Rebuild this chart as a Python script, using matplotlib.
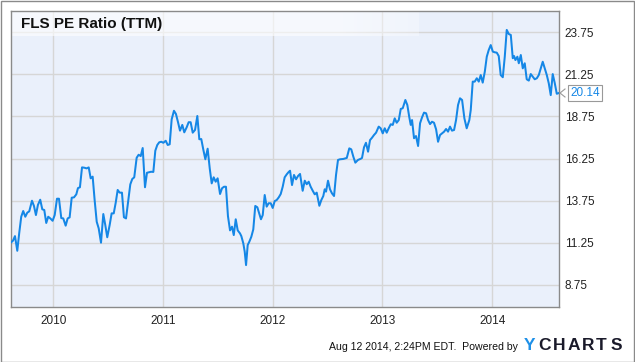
import matplotlib
matplotlib.use("Agg")
import matplotlib.pyplot as plt
import numpy as np
from matplotlib.patches import Rectangle

# ---- data (decimal year, PE ratio) ----
years = [
    2009.612, 2009.633, 2009.651, 2009.672, 2009.690, 2009.708, 2009.726, 2009.745, 2009.763, 2009.781,
    2009.806, 2009.824, 2009.842, 2009.860, 2009.881, 2009.900, 2009.918, 2009.936, 2009.954, 2009.973,
    2009.994, 2010.013, 2010.034, 2010.052, 2010.073, 2010.091, 2010.113, 2010.131, 2010.149, 2010.168,
    2010.189, 2010.210, 2010.225, 2010.243, 2010.262, 2010.283, 2010.304, 2010.323, 2010.341, 2010.359,
    2010.377, 2010.396, 2010.414, 2010.435, 2010.456, 2010.474, 2010.492, 2010.514, 2010.532, 2010.551,
    2010.569, 2010.587, 2010.605, 2010.626, 2010.644, 2010.663, 2010.684, 2010.702, 2010.720, 2010.738,
    2010.760, 2010.778, 2010.797, 2010.815, 2010.836, 2010.854, 2010.872, 2010.891, 2010.912, 2010.930,
    2010.948, 2010.966, 2010.985, 2011.003, 2011.025, 2011.043, 2011.061, 2011.079, 2011.100, 2011.118,
    2011.137, 2011.155, 2011.176, 2011.194, 2011.216, 2011.234, 2011.252, 2011.271, 2011.292, 2011.313,
    2011.331, 2011.349, 2011.367, 2011.386, 2011.407, 2011.426, 2011.444, 2011.462, 2011.480, 2011.498,
    2011.520, 2011.538, 2011.556, 2011.574, 2011.592, 2011.611, 2011.629, 2011.645, 2011.663, 2011.681,
    2011.702, 2011.714, 2011.732, 2011.745, 2011.757, 2011.772, 2011.787, 2011.805, 2011.823, 2011.841,
    2011.860, 2011.878, 2011.893, 2011.909, 2011.927, 2011.945, 2011.963, 2011.982, 2012.000, 2012.018,
    2012.036, 2012.055, 2012.073, 2012.091, 2012.109, 2012.128, 2012.146, 2012.158, 2012.176, 2012.194,
    2012.213, 2012.231, 2012.249, 2012.273, 2012.292, 2012.310, 2012.328, 2012.346, 2012.365, 2012.383,
    2012.401, 2012.407, 2012.425, 2012.443, 2012.461, 2012.474, 2012.486, 2012.504, 2012.522, 2012.540,
    2012.559, 2012.577, 2012.595, 2012.613, 2012.643, 2012.675, 2012.698, 2012.716, 2012.735, 2012.753,
    2012.777, 2012.802, 2012.814, 2012.832, 2012.850, 2012.869, 2012.887, 2012.905, 2012.923, 2012.942,
    2012.966, 2012.984, 2013.003, 2013.021, 2013.039, 2013.057, 2013.076, 2013.094, 2013.112, 2013.130,
    2013.149, 2013.167, 2013.185, 2013.209, 2013.227, 2013.245, 2013.258, 2013.270, 2013.288, 2013.306,
    2013.325, 2013.343, 2013.361, 2013.379, 2013.398, 2013.416, 2013.434, 2013.452, 2013.470, 2013.489,
    2013.507, 2013.525, 2013.543, 2013.562, 2013.580, 2013.598, 2013.616, 2013.634, 2013.653, 2013.671,
    2013.689, 2013.707, 2013.726, 2013.737, 2013.747, 2013.768, 2013.792, 2013.805, 2013.823, 2013.841,
    2013.860, 2013.878, 2013.896, 2013.914, 2013.933, 2013.951, 2013.969, 2013.987, 2014.006, 2014.024,
    2014.042, 2014.060, 2014.078, 2014.097, 2014.115, 2014.133, 2014.151, 2014.170, 2014.188, 2014.200,
    2014.212, 2014.230, 2014.243, 2014.261, 2014.279, 2014.297, 2014.315, 2014.334, 2014.352, 2014.370,
    2014.388, 2014.407, 2014.425, 2014.443, 2014.461, 2014.479, 2014.498, 2014.516, 2014.534, 2014.552,
    2014.571, 2014.589, 2014.607,
]
pe_ratio = [
    11.26, 11.38, 11.65, 10.78, 11.85, 12.80, 13.14, 12.80, 13.04, 13.12,
    13.75, 13.44, 12.90, 13.50, 13.81, 13.24, 13.20, 12.43, 12.80, 12.70,
    12.56, 12.90, 13.87, 13.87, 12.72, 12.70, 12.27, 12.70, 12.76, 13.93,
    13.95, 14.13, 14.50, 14.55, 15.73, 15.71, 15.67, 15.73, 15.08, 15.18,
    13.79, 12.50, 12.11, 11.26, 12.96, 12.31, 11.58, 12.31, 13.00, 13.00,
    13.63, 14.39, 14.23, 14.23, 12.77, 12.70, 13.79, 14.72, 15.04, 15.14,
    16.30, 16.48, 16.40, 16.88, 14.55, 15.41, 15.44, 15.47, 15.46, 16.72,
    17.06, 17.22, 17.25, 17.19, 17.31, 17.06, 17.10, 18.58, 19.09, 18.90,
    18.41, 17.91, 18.25, 17.81, 18.11, 18.41, 18.41, 17.79, 17.95, 18.78,
    17.40, 17.41, 16.80, 16.21, 16.84, 15.67, 14.78, 15.14, 14.88, 15.08,
    14.15, 14.49, 14.58, 14.58, 12.84, 11.99, 12.21, 11.71, 12.65, 11.99,
    11.81, 11.65, 11.22, 10.72, 9.93, 11.12, 11.32, 11.61, 12.05, 13.44,
    13.36, 12.96, 12.65, 12.90, 14.09, 13.40, 13.60, 13.60, 13.32, 13.73,
    13.79, 13.95, 14.15, 14.58, 15.14, 15.32, 15.46, 15.53, 14.68, 15.28,
    15.02, 15.22, 15.34, 14.34, 14.94, 14.73, 14.88, 14.58, 14.34, 14.13,
    14.23, 14.03, 13.45, 13.79, 14.03, 14.43, 14.29, 14.94, 14.43, 14.19,
    14.03, 15.28, 16.17, 16.21, 16.23, 16.29, 16.86, 16.80, 16.36, 16.01,
    16.17, 16.24, 16.29, 16.92, 17.19, 16.66, 17.35, 17.49, 17.65, 17.79,
    18.15, 18.05, 17.75, 18.05, 17.79, 18.05, 18.29, 18.25, 18.64, 18.38,
    18.54, 19.20, 19.24, 19.73, 19.43, 18.70, 18.25, 18.54, 17.46, 17.59,
    17.00, 18.35, 18.70, 18.98, 18.94, 18.54, 18.30, 18.44, 18.38, 17.99,
    17.25, 17.65, 17.75, 17.85, 18.01, 17.85, 18.15, 17.91, 17.95, 18.54,
    19.43, 19.83, 19.73, 19.18, 18.64, 18.05, 18.54, 19.14, 20.82, 20.82,
    21.02, 20.82, 21.21, 20.76, 21.41, 22.30, 22.70, 22.99, 22.60, 22.56,
    22.54, 22.34, 21.21, 21.08, 22.30, 23.89, 23.65, 23.59, 22.21, 22.34,
    22.10, 22.30, 21.91, 22.40, 21.61, 21.91, 20.96, 20.88, 21.27, 21.11,
    20.96, 21.02, 21.21, 21.61, 22.00, 21.61, 21.21, 20.72, 20.02, 21.27,
    20.72, 20.10, 20.14,
]
y_ticks = [8.75, 11.25, 13.75, 16.25, 18.75, 21.25, 23.75]
x_ticks = [2010, 2011, 2012, 2013, 2014]
x_labels = ["2010", "2011", "2012", "2013", "2014"]
title = "FLS PE Ratio (TTM)"
last_label = "20.14"
footer = "Aug 12 2014, 2:24PM EDT.  Powered by"
logo_letters = ["Y", "C", "H", "A", "R", "T", "S"]

FONT = "Liberation Sans"
W, H = 635, 362
fig = plt.figure(figsize=(W / 100, H / 100), dpi=100)
fig.patch.set_facecolor("white")

l, r, t, b = 10.7, 559.3, 10.7, 306.7
ax = fig.add_axes([l / W, 1 - b / H, (r - l) / W, (b - t) / H])
ax.set_facecolor("#eaf0fb")

ax.plot(years, pe_ratio, color="#1587e6", lw=1.45, zorder=3, solid_joinstyle="round")

ax.set_yticks(y_ticks)
ax.set_yticklabels([f"{v:.2f}" for v in y_ticks])
ax.set_xticks(x_ticks)
ax.set_xticklabels(x_labels)
ax.yaxis.tick_right()
ax.tick_params(axis="both", length=0, labelsize=8.5, labelcolor="#222222")
ax.tick_params(axis="y", pad=4)
ax.tick_params(axis="x", pad=6)
for lab in ax.get_xticklabels() + ax.get_yticklabels():
    lab.set_fontfamily(FONT)
ax.grid(True, color="#d6d6d6", lw=1.0, zorder=1)
ax.set_axisbelow(True)
for s in ax.spines.values():
    s.set_color("#8a8a8a")
    s.set_linewidth(1.0)

# title band (fading)
band_h = (36 - t) / (b - t)
grad = np.ones((1, 200, 4))
xs = np.linspace(0, 1, 200)
alpha = np.where(xs < 0.80, 0.6, 0.6 * (1 - (xs - 0.80) / 0.20) + 0.3 * ((xs - 0.80) / 0.20))
grad[0, :, 3] = alpha
ax.imshow(grad, extent=[0, 0.742, 1 - band_h, 1], transform=ax.transAxes,
          aspect="auto", zorder=2)
ax.set_xlim(2009.612, 2014.612)
ax.set_ylim(7.46, 25.03)

ax.text(21 / W, 1 - 24 / H, title, transform=fig.transFigure, fontsize=11,
        fontweight="bold", fontfamily=FONT, color="#111111", va="center", ha="left")

# last value label
ax.annotate(last_label, xy=(1.0, pe_ratio[-1]), xycoords=("axes fraction", "data"),
            xytext=(8, 0), textcoords="offset points", fontsize=8.5,
            fontfamily=FONT, color="#1587e6", va="center", ha="left",
            bbox=dict(boxstyle="square,pad=0.2", fc="white", ec="#999999", lw=0.8),
            annotation_clip=False, zorder=5)
fig.add_artist(plt.Line2D([565 / W, 560 / W, 565 / W], [1 - 89 / H, 1 - 93 / H, 1 - 97 / H],
                          color="#999999", lw=0.8))

# footer
fig.text(329 / W, 1 - 347 / H, footer, fontsize=7.6,
         fontfamily=FONT, color="#111111", va="center", ha="left")
logo_x0, logo_dx = 524, 14.4
for i, ch in enumerate(logo_letters):
    fig.text((logo_x0 + i * logo_dx) / W, 1 - 346 / H, ch, fontsize=12.5, fontweight="bold",
             fontfamily=FONT, color="#1e90e8" if i == 0 else "#1a1a2a",
             va="center", ha="left")

# outer border
fig.add_artist(Rectangle((0.5 / W, 0.5 / H), 1 - 1.5 / W, 1 - 1.5 / H, transform=fig.transFigure,
                         fill=False, ec="#8a8a8a", lw=1.0))

fig.savefig("out.png", dpi=100)
